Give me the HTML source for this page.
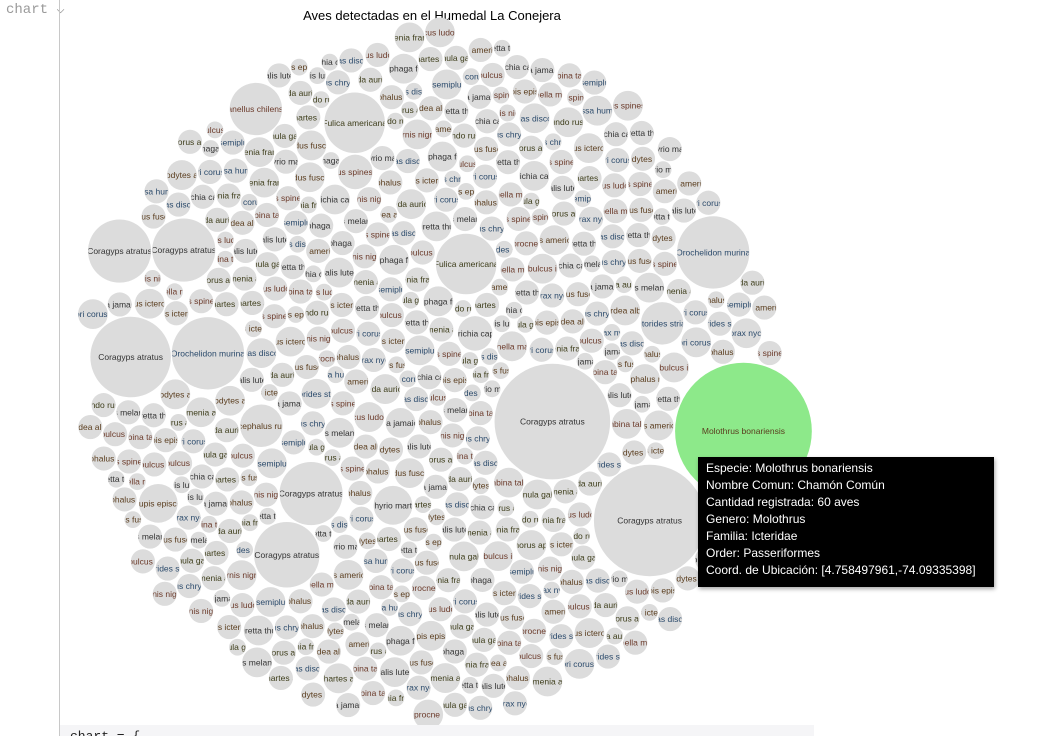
<!DOCTYPE html>
<html><head><meta charset="utf-8">
<style>
html,body{margin:0;padding:0;background:#fff;width:1044px;height:736px;overflow:hidden;font-family:"Liberation Sans",sans-serif;}
#gutter-label{position:absolute;left:6px;top:1px;font:14px "Liberation Mono",monospace;color:#9a9a9a;}
#gutter-line{position:absolute;left:59px;top:0;width:1px;height:736px;background:#c8c8c8;}
#code-cell{position:absolute;left:60px;top:725px;width:744px;height:11px;background:#f5f5f7;font:13px "Liberation Mono",monospace;color:#222;padding-left:10px;line-height:24px;overflow:hidden;}
#tooltip{position:absolute;left:698px;top:457px;width:280px;height:120px;background:#000;color:#fff;font-size:12px;line-height:17px;padding:3px 8px 7px 8px;box-shadow:1px 2px 4px rgba(0,0,0,.35);}
svg{position:absolute;left:0;top:0;}
</style></head>
<body>
<div id="gutter-label">chart ⌵</div>
<div id="gutter-line"></div>
<svg id="chart" width="1044" height="736">
<text x="432" y="20" text-anchor="middle" font-size="13" fill="#000">Aves detectadas en el Humedal La Conejera</text>
<g id="defs-holder"></g><g id="bubbles"></g>
</svg>
<div id="tooltip">Especie: Molothrus bonariensis<br>Nombre Comun: Chamón Común<br>Cantidad registrada: 60 aves<br>Genero: Molothrus<br>Familia: Icteridae<br>Order: Passeriformes<br>Coord. de Ubicación: [4.758497961,-74.09335398]</div>
<div id="code-cell">chart = {</div>
<script>
const speciesNames = ["Coragyps atratus","Molothrus bonariensis","Orochelidon murina","Fulica americana","Vanellus chilensis","Zonotrichia capensis","Turdus fuscater","Anas discors","Gallinula galeata","Bubulcus ibis","Egretta thula","Pyrocephalus rubinus","Colibri coruscans","Elaenia frantzii","Spinus spinescens","Sicalis luteola","Chrysomus icterocephalus","Icterus chrysater","Zenaida auriculata","Columbina talpacoti","Oxyura jamaicensis","Anas americana","Rallus semiplumbeus","Cistothorus apolinari","Sayornis nigricans","Tyrannus melancholicus","Troglodytes aedon","Butorides striata","Cathartes aura","Pheucticus ludovicianus","Setophaga fusca","Thraupis episcopus","Diglossa humeralis","Catamenia analis","Sturnella magna","Porphyrio martinica","Ardea alba","Nycticorax nycticorax","Hirundo rustica","Streptoprocne zonaris"];
const recordCounts = [
2,1,2,3,1,2,2,1,3,2,2,1,2,2,3,1,2,4,2,1,2,2,1,3,2,1,2,2,2,3,1,2,2,1,2,43,2,1,3,2,
1,2,2,3,2,1,2,12,2,1,2,3,2,2,1,2,2,3,1,2,2,1,2,2,3,2,1,2,5,2,2,1,3,2,2,1,2,2,3,1,
2,2,1,2,3,2,2,1,2,13,2,2,1,3,2,2,2,1,2,2,3,1,2,2,2,1,3,2,2,1,2,6,2,1,2,2,3,2,1,2,
2,3,1,2,2,2,1,2,3,2,2,1,2,1,2,2,3,1,2,2,1,2,3,2,2,1,2,2,2,3,1,2,2,1,2,2,3,17,2,1,
3,2,1,2,2,2,3,1,2,2,1,2,2,3,2,1,2,2,14,2,1,2,3,2,2,1,2,2,2,3,1,2,4,2,1,2,2,3,2,2,
1,2,2,3,2,40,1,2,2,2,3,1,2,2,1,2,3,2,2,1,2,2,2,3,1,2,6,2,2,1,2,3,2,2,1,2,2,2,3,1,
2,2,1,2,3,2,2,1,2,2,12,2,1,3,2,2,2,1,2,2,3,1,2,2,2,1,3,2,2,1,2,2,2,1,13,2,3,2,1,2,
60,3,1,2,2,2,1,2,3,2,2,1,2,2,2,2,3,1,2,2,1,21,3,2,2,1,2,2,2,3,1,2,2,1,2,2,3,2,2,1,
3,2,1,2,2,2,3,1,2,17,1,2,2,3,2,1,2,2,2,2,1,2,3,2,2,1,2,5,2,3,1,2,2,2,1,2,2,3,2,2,
1,2,2,3,2,2,1,2,2,9,3,1,2,2,1,2,3,2,2,1,2,2,2,3,1,2,2,2,2,1,2,3,2,2,1,2,13,2,3,1,
2,2,1,2,3,2,2,1,2,2,2,2,1,3,2,2,2,1,2,2,3,1,2,2,2,1,3,2,2,1,2,2,2,1,2,2,3,2,1,2,
2,3,1,2,2,2,1,2,3,2,2,1,2,2,2,2,3,1,2,2,1,2,3,2,2,1,2,2,2,3,1,2,2,1,2,2,3,2,2,1];
const recordSpecies = [
5,12,7,22,9,31,14,6,18,25,11,8,33,16,20,27,10,5,37,13,24,19,7,29,15,35,9,21,12,30,6,17,26,38,11,0,23,8,34,14,
19,10,28,6,36,15,22,3,9,32,13,25,7,18,39,11,20,27,5,16,33,8,24,12,30,14,21,6,35,17,9,26,19,38,10,23,7,31,15,28,
11,24,8,34,16,20,5,29,13,0,18,7,26,10,37,22,14,31,6,19,9,27,15,36,12,23,8,30,17,5,25,11,33,20,14,39,7,28,16,21,
9,18,31,6,25,13,36,10,22,15,29,7,19,10,12,33,8,26,17,5,38,14,21,11,30,16,6,24,35,9,20,13,28,7,32,15,23,2,18,10,
26,12,37,8,20,16,5,31,11,24,14,34,9,19,27,6,22,13,0,29,17,10,36,15,7,25,18,33,12,21,8,30,14,39,6,23,16,11,28,19,
13,22,7,30,17,0,10,26,15,35,5,20,11,28,18,8,33,14,24,9,37,12,19,6,31,16,27,10,23,38,7,21,15,29,11,34,18,6,25,13,
17,8,32,14,24,10,36,19,6,27,3,12,22,9,38,15,5,30,20,11,26,16,34,7,18,29,13,23,8,37,14,25,10,21,0,6,31,17,12,28,
1,6,27,11,35,16,23,9,30,14,5,25,18,33,7,21,12,38,10,29,15,0,24,8,36,19,13,31,6,22,17,26,11,34,9,28,16,39,12,23,
7,30,15,21,10,37,13,26,19,2,24,8,32,16,11,35,20,6,28,14,23,9,38,17,12,25,5,31,18,22,10,27,13,36,7,19,29,15,33,11,
14,27,9,33,19,8,24,12,29,4,16,36,6,21,13,31,10,25,18,38,7,22,15,30,11,26,5,34,17,20,9,28,14,37,12,23,0,18,32,6,
23,11,34,7,26,15,20,10,31,17,6,28,13,37,9,22,16,35,8,25,12,30,19,5,27,14,33,10,21,18,38,7,24,15,29,11,36,20,13,26,
8,25,16,32,12,21,9,35,14,27,19,6,30,11,23,17,39,10,28,15,5,34,13,20,26,8,37,18,22,12,31,9,24,16,36,7,29,14,21,10];
const highlightSpecies = "Molothrus bonariensis";

(function(){
  const NS="http://www.w3.org/2000/svg";
  const cx=428, cy=377, R=348;
  const n=Math.min(recordCounts.length, recordSpecies.length);
  let total=0; for(let i=0;i<n;i++) total+=recordCounts[i];
  const k=Math.sqrt(0.78*R*R/total);
  const rScale=v=>k*Math.sqrt(v);
  const step=3, CR=440, cand=[];
  for(let x=-CR;x<=CR;x+=step)for(let y=-CR;y<=CR;y+=step){const d=x*x+y*y;if(d<=CR*CR)cand.push([x,y,d]);}
  cand.sort((a,b)=>a[2]-b[2]);
  const m=cand.length, px=new Float32Array(m), py=new Float32Array(m), cl=new Float32Array(m);
  for(let i=0;i<m;i++){px[i]=cand[i][0];py[i]=cand[i][1];cl[i]=1e9;}
  const placed=[];
  for(let i=0;i<n;i++){
    const r=rScale(recordCounts[i]);
    let j=0; while(j<m && cl[j]<r) j++;
    if(j>=m) j=m-1;
    const x=px[j], y=py[j];
    placed.push([x,y,r,i]);
    for(let q=0;q<m;q++){const dx=px[q]-x,dy=py[q]-y;const c=Math.sqrt(dx*dx+dy*dy)-r;if(c<cl[q])cl[q]=c;}
  }
  // rotate layout so the highlighted bubble points toward the tooltip
  let rot=0;
  placed.forEach(([x,y,r,i])=>{ if(speciesNames[recordSpecies[i]]===highlightSpecies) rot=-Math.atan2(y,x)+0.17; });
  const cr=Math.cos(rot), sr=Math.sin(rot);
  placed.forEach(p=>{const x=p[0],y=p[1];p[0]=x*cr-y*sr;p[1]=x*sr+y*cr;});
  const colors=["#333333","#5a3d1e","#2b4a6b","#3d3d1a","#6b3a2a"];
  const g=document.getElementById("bubbles");
  const defs=document.createElementNS(NS,"defs");
  document.getElementById("defs-holder").appendChild(defs);
  placed.forEach(([x,y,r,i])=>{
    const name=speciesNames[recordSpecies[i]]||"";
    const grp=document.createElementNS(NS,"g");
    
    
    const c=document.createElementNS(NS,"circle");
    c.setAttribute("cx",cx+x);c.setAttribute("cy",cy+y);c.setAttribute("r",r-0.5);
    c.setAttribute("fill",name===highlightSpecies?"#8de98a":"#dcdcdc");
    
    
    grp.appendChild(c);
    const cp=document.createElementNS(NS,"clipPath");cp.setAttribute("id","cp"+i);
    const cc=document.createElementNS(NS,"circle");cc.setAttribute("cx",cx+x);cc.setAttribute("cy",cy+y);cc.setAttribute("r",r-1);
    cp.appendChild(cc);defs.appendChild(cp);
    const t=document.createElementNS(NS,"text");
    t.setAttribute("x",cx+x);t.setAttribute("y",cy+y+3);
    t.setAttribute("text-anchor","middle");t.setAttribute("font-size","8.5");
    t.setAttribute("fill",colors[recordSpecies[i]%5]);
    t.setAttribute("clip-path","url(#cp"+i+")");
    
    
    t.textContent=name;
    grp.appendChild(t);
    g.appendChild(grp);
  });
})();
</script>
</body></html>
